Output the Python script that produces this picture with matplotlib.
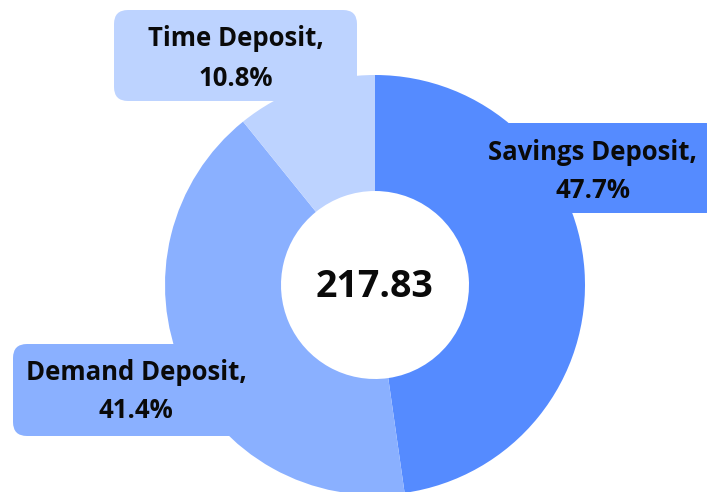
import matplotlib
matplotlib.use("Agg")
import matplotlib.pyplot as plt
from matplotlib.patches import FancyBboxPatch

# Data
categories = ["Savings Deposit", "Demand Deposit", "Time Deposit"]
shares = [47.7, 41.4, 10.8]
total_label = "217.83"
colors = ["#558BFF", "#8AB0FF", "#BDD3FF"]

W, H = 707, 492
fig = plt.figure(figsize=(W / 100, H / 100), dpi=100)
ax = fig.add_axes([0, 0, 1, 1])

cx, cy = 375, H - 285
R, r_in = 210, 94
ax.pie(shares, colors=colors, startangle=90, counterclock=False,
       center=(cx, cy), radius=R,
       wedgeprops=dict(width=R - r_in, linewidth=0))
ax.set_xlim(0, W)
ax.set_ylim(0, H)
ax.set_aspect("equal")
ax.axis("off")

font = "Open Sans"
ax.text(cx, cy - 2, total_label, ha="center", va="center", fontsize=27,
        fontweight="bold", family=font, color="#0a0a0a")

# label boxes (pixel coords, top-left origin): x0, y0, x1, y1, text center x, line1 y, line2 y
boxes = {
    "Savings Deposit": (470, 123, 720, 213, 593, 152, 190),
    "Demand Deposit": (13, 344, 262, 436, 136, 373, 410),
    "Time Deposit": (114, 10, 357, 101, 236, 38, 79),
}
for cat, share, col in zip(categories, shares, colors):
    x0, y0, x1, y1, tx, l1, l2 = boxes[cat]
    pad = 14
    patch = FancyBboxPatch((x0 + pad, H - y1 + pad), (x1 - x0) - 2 * pad,
                           (y1 - y0) - 2 * pad,
                           boxstyle=f"round,pad={pad}", facecolor=col,
                           edgecolor="none", zorder=3)
    ax.add_patch(patch)
    ax.text(tx, H - l1, f"{cat},", ha="center", va="center", fontsize=18.5,
            fontweight="bold", family=font, color="#0a0a0a", zorder=4)
    ax.text(tx, H - l2, f"{share}%", ha="center", va="center", fontsize=18.5,
            fontweight="bold", family=font, color="#0a0a0a", zorder=4)

fig.savefig("out.png", dpi=100)
